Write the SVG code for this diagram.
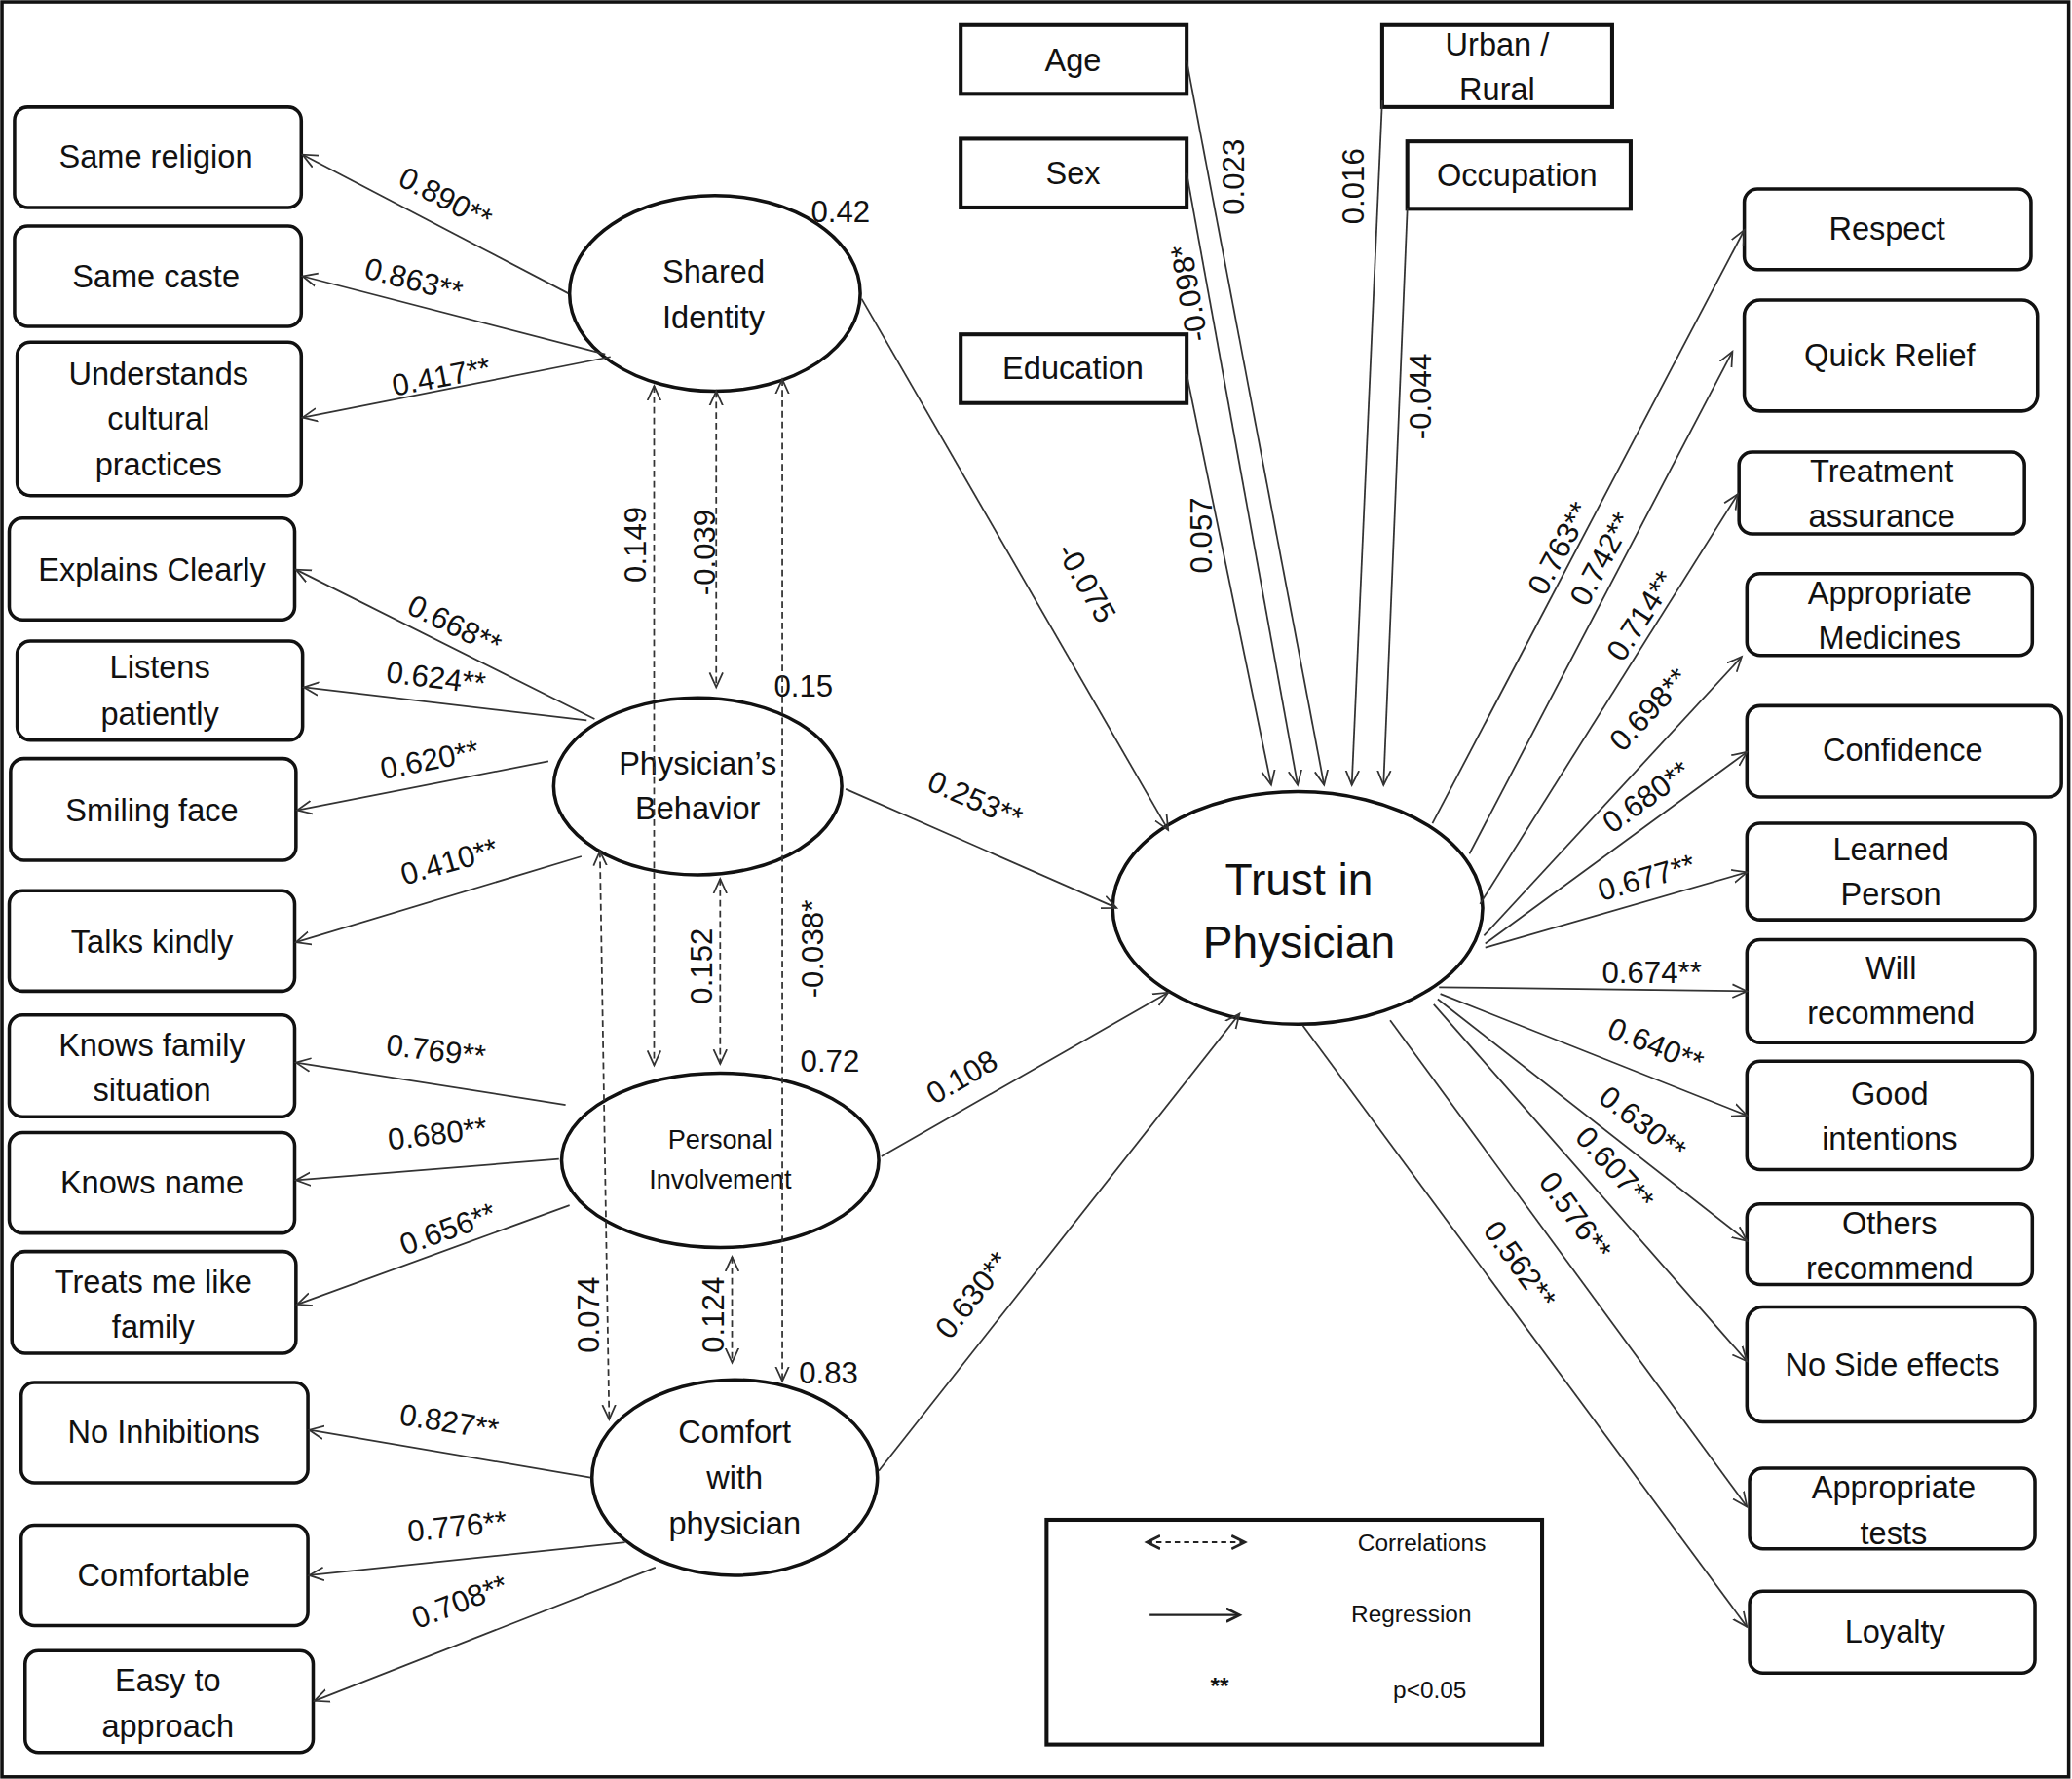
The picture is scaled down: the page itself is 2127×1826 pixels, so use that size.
<svg xmlns="http://www.w3.org/2000/svg" width="2127" height="1826" viewBox="0 0 2127 1826">
<defs>
<marker id="ah" markerUnits="userSpaceOnUse" markerWidth="14" markerHeight="14" refX="11" refY="6" orient="auto-start-reverse" viewBox="0 0 14 14">
<path d="M0,1 L11,6 L0,11" fill="none" stroke="#333" stroke-width="1.3"/>
</marker>
<marker id="ahl" markerUnits="userSpaceOnUse" markerWidth="14" markerHeight="14" refX="10" refY="6" orient="auto-start-reverse" viewBox="0 0 14 14">
<path d="M0,1 L10,6 L0,11" fill="none" stroke="#222" stroke-width="2"/>
</marker>
</defs>
<style>
text{font-family:"Liberation Sans",Arial,sans-serif;fill:#111;text-anchor:middle;dominant-baseline:central}
.bx{fill:#fff;stroke:#111;stroke-width:2.6}
.sq{fill:#fff;stroke:#111;stroke-width:3}
.el{fill:#fff;stroke:#111;stroke-width:2.6}
.t{font-size:24px}
.lb{font-size:23px}
.c{fill:none;stroke:#333;stroke-width:1.3;marker-end:url(#ah)}
.d{fill:none;stroke:#333;stroke-width:1.3;stroke-dasharray:5 3;marker-start:url(#ah);marker-end:url(#ah)}
</style>
<rect x="0" y="0" width="2127" height="1826" fill="#fff"/>
<g transform="scale(1.35651)">
<rect x="1.5" y="1.5" width="1564" height="1343" fill="none" stroke="#111" stroke-width="2.6"/>

<!-- Left indicator boxes -->
<g id="same-religion"><rect class="bx" x="11" y="81" width="217" height="76" rx="10"/><text class="t" x="118" y="119">Same religion</text></g>
<g id="same-caste"><rect class="bx" x="11" y="171" width="217" height="76" rx="10"/><text class="t" x="118" y="209">Same caste</text></g>
<g id="understands"><rect class="bx" x="13" y="259" width="215" height="116" rx="10"/><text class="t" x="120" y="283">Understands</text><text class="t" x="120" y="317">cultural</text><text class="t" x="120" y="352">practices</text></g>
<g id="explains"><rect class="bx" x="7" y="392" width="216" height="77" rx="10"/><text class="t" x="115" y="431">Explains Clearly</text></g>
<g id="listens"><rect class="bx" x="13" y="485" width="216" height="75" rx="10"/><text class="t" x="121" y="505">Listens</text><text class="t" x="121" y="540">patiently</text></g>
<g id="smiling"><rect class="bx" x="8" y="574" width="216" height="77" rx="10"/><text class="t" x="115" y="613">Smiling face</text></g>
<g id="talks"><rect class="bx" x="7" y="674" width="216" height="76" rx="10"/><text class="t" x="115" y="713">Talks kindly</text></g>
<g id="knows-family"><rect class="bx" x="7" y="768" width="216" height="77" rx="10"/><text class="t" x="115" y="791">Knows family</text><text class="t" x="115" y="825">situation</text></g>
<g id="knows-name"><rect class="bx" x="7" y="857" width="216" height="76" rx="10"/><text class="t" x="115" y="895">Knows name</text></g>
<g id="treats"><rect class="bx" x="9" y="947" width="215" height="77" rx="10"/><text class="t" x="116" y="970">Treats me like</text><text class="t" x="116" y="1004">family</text></g>
<g id="no-inhibitions"><rect class="bx" x="16" y="1046" width="217" height="76" rx="10"/><text class="t" x="124" y="1084">No Inhibitions</text></g>
<g id="comfortable"><rect class="bx" x="16" y="1154" width="217" height="76" rx="10"/><text class="t" x="124" y="1192">Comfortable</text></g>
<g id="easy"><rect class="bx" x="19" y="1249" width="218" height="77" rx="10"/><text class="t" x="127" y="1272">Easy to</text><text class="t" x="127" y="1306">approach</text></g>

<!-- Latent ellipses -->
<g id="shared-identity"><ellipse class="el" cx="541" cy="222" rx="110" ry="74"/><text class="t" x="540" y="206">Shared</text><text class="t" x="540" y="240">Identity</text><text class="lb" x="636" y="160">0.42</text></g>
<g id="physicians-behavior"><ellipse class="el" cx="528" cy="595" rx="109" ry="67"/><text class="t" x="528" y="578">Physician’s</text><text class="t" x="528" y="612">Behavior</text><text class="lb" x="608" y="519">0.15</text></g>
<g id="personal-involvement"><ellipse class="el" cx="545" cy="878" rx="120" ry="66"/><text style="font-size:20px" x="545" y="862">Personal</text><text style="font-size:20px" x="545" y="892">Involvement</text><text class="lb" x="628" y="803">0.72</text></g>
<g id="comfort"><ellipse class="el" cx="556" cy="1118" rx="108" ry="74"/><text class="t" x="556" y="1084">Comfort</text><text class="t" x="556" y="1118">with</text><text class="t" x="556" y="1153">physician</text><text class="lb" x="627" y="1039">0.83</text></g>
<g id="trust"><ellipse class="el" cx="982" cy="687" rx="140" ry="88"/><text style="font-size:34px" x="983" y="666">Trust in</text><text style="font-size:34px" x="983" y="713">Physician</text></g>

<!-- Covariate boxes -->
<g id="age"><rect class="sq" x="727" y="19" width="171" height="52"/><text class="t" x="812" y="46">Age</text></g>
<g id="sex"><rect class="sq" x="727" y="105" width="171" height="52"/><text class="t" x="812" y="131">Sex</text></g>
<g id="education"><rect class="sq" x="727" y="253" width="171" height="52"/><text class="t" x="812" y="279">Education</text></g>
<g id="urban-rural"><rect class="sq" x="1046" y="19" width="174" height="62"/><text class="t" x="1133" y="34">Urban /</text><text class="t" x="1133" y="68">Rural</text></g>
<g id="occupation"><rect class="sq" x="1065" y="107" width="169" height="51"/><text class="t" x="1148" y="133">Occupation</text></g>

<!-- Right indicator boxes -->
<g id="respect"><rect class="bx" x="1320" y="143" width="217" height="61" rx="10"/><text class="t" x="1428" y="173">Respect</text></g>
<g id="quick-relief"><rect class="bx" x="1320" y="227" width="222" height="84" rx="12"/><text class="t" x="1430" y="269">Quick Relief</text></g>
<g id="treatment-assurance"><rect class="bx" x="1316" y="342" width="216" height="62" rx="10"/><text class="t" x="1424" y="357">Treatment</text><text class="t" x="1424" y="391">assurance</text></g>
<g id="appropriate-medicines"><rect class="bx" x="1322" y="434" width="216" height="62" rx="10"/><text class="t" x="1430" y="449">Appropriate</text><text class="t" x="1430" y="483">Medicines</text></g>
<g id="confidence"><rect class="bx" x="1322" y="534" width="238" height="69" rx="10"/><text class="t" x="1440" y="568">Confidence</text></g>
<g id="learned-person"><rect class="bx" x="1322" y="623" width="218" height="73" rx="10"/><text class="t" x="1431" y="643">Learned</text><text class="t" x="1431" y="677">Person</text></g>
<g id="will-recommend"><rect class="bx" x="1322" y="711" width="218" height="78" rx="10"/><text class="t" x="1431" y="733">Will</text><text class="t" x="1431" y="767">recommend</text></g>
<g id="good-intentions"><rect class="bx" x="1322" y="803" width="216" height="82" rx="10"/><text class="t" x="1430" y="828">Good</text><text class="t" x="1430" y="862">intentions</text></g>
<g id="others-recommend"><rect class="bx" x="1322" y="911" width="216" height="61" rx="10"/><text class="t" x="1430" y="926">Others</text><text class="t" x="1430" y="960">recommend</text></g>
<g id="no-side-effects"><rect class="bx" x="1322" y="989" width="218" height="87" rx="12"/><text class="t" x="1432" y="1033">No Side effects</text></g>
<g id="appropriate-tests"><rect class="bx" x="1324" y="1111" width="216" height="61" rx="10"/><text class="t" x="1433" y="1126">Appropriate</text><text class="t" x="1433" y="1160">tests</text></g>
<g id="loyalty"><rect class="bx" x="1324" y="1204" width="216" height="62" rx="10"/><text class="t" x="1434" y="1235">Loyalty</text></g>

<!-- Legend -->
<g id="legend">
<rect class="sq" x="792" y="1150" width="375" height="170"/>
<line x1="868" y1="1167" x2="942" y2="1167" stroke="#222" stroke-width="1.5" stroke-dasharray="4 3" marker-start="url(#ahl)" marker-end="url(#ahl)"/>
<line x1="870" y1="1222" x2="938" y2="1222" stroke="#222" stroke-width="1.6" marker-end="url(#ahl)"/>
<text style="font-size:18px" x="1076" y="1167">Correlations</text>
<text style="font-size:18px" x="1068" y="1221">Regression</text>
<text style="font-size:18px;font-weight:bold" x="923" y="1276">**</text>
<text style="font-size:18px" x="1082" y="1279">p&lt;0.05</text>
</g>

<g id="connectors">
<!-- Shared identity indicators -->
<line class="c" x1="430" y1="222" x2="229" y2="117"/>
<line class="c" x1="458" y1="268" x2="229" y2="209"/>
<line class="c" x1="462" y1="270" x2="229" y2="316"/>
<!-- Physician's behavior indicators -->
<line class="c" x1="450" y1="544" x2="224" y2="431"/>
<line class="c" x1="444" y1="545" x2="230" y2="520"/>
<line class="c" x1="415" y1="576" x2="225" y2="613"/>
<line class="c" x1="440" y1="648" x2="224" y2="713"/>
<!-- Personal involvement indicators -->
<line class="c" x1="428" y1="836" x2="224" y2="804"/>
<line class="c" x1="423" y1="877" x2="224" y2="893"/>
<line class="c" x1="431" y1="912" x2="225" y2="987"/>
<!-- Comfort indicators -->
<line class="c" x1="447" y1="1118" x2="234" y2="1082"/>
<line class="c" x1="473" y1="1167" x2="234" y2="1192"/>
<line class="c" x1="496" y1="1186" x2="238" y2="1287"/>
<!-- Regressions to trust -->
<line class="c" x1="652" y1="226" x2="884" y2="628"/>
<line class="c" x1="640" y1="597" x2="845" y2="687"/>
<line class="c" x1="667" y1="875" x2="884" y2="751"/>
<line class="c" x1="665" y1="1113" x2="938" y2="767"/>
<!-- Covariates -->
<line class="c" x1="898" y1="46" x2="1002" y2="594"/>
<line class="c" x1="898" y1="131" x2="982" y2="594"/>
<line class="c" x1="898" y1="283" x2="962" y2="594"/>
<line class="c" x1="1046" y1="76" x2="1023" y2="594"/>
<line class="c" x1="1065" y1="158" x2="1047" y2="594"/>
<!-- Trust indicators -->
<line class="c" x1="1084" y1="623" x2="1320" y2="174"/>
<line class="c" x1="1112" y1="646" x2="1311" y2="266"/>
<line class="c" x1="1120" y1="684" x2="1315" y2="374"/>
<line class="c" x1="1123" y1="708" x2="1318" y2="497"/>
<line class="c" x1="1124" y1="714" x2="1322" y2="569"/>
<line class="c" x1="1124" y1="717" x2="1322" y2="660"/>
<line class="c" x1="1089" y1="747" x2="1322" y2="750"/>
<line class="c" x1="1090" y1="752" x2="1322" y2="844"/>
<line class="c" x1="1088" y1="756" x2="1322" y2="939"/>
<line class="c" x1="1085" y1="760" x2="1322" y2="1030"/>
<line class="c" x1="1052" y1="772" x2="1322" y2="1140"/>
<line class="c" x1="986" y1="776" x2="1322" y2="1231"/>
<!-- Correlations -->
<line class="d" x1="495" y1="292" x2="495" y2="806"/>
<line class="d" x1="542" y1="296" x2="542" y2="520"/>
<line class="d" x1="592" y1="287" x2="592" y2="1045"/>
<line class="d" x1="545" y1="665" x2="545" y2="805"/>
<line class="d" x1="454" y1="644" x2="461" y2="1074"/>
<line class="d" x1="554" y1="951" x2="554" y2="1031"/>

<!-- Edge labels -->
<text class="lb" transform="rotate(27.5 337 150)" x="337" y="150">0.890**</text>
<text class="lb" transform="rotate(14.4 313 212)" x="313" y="212">0.863**</text>
<text class="lb" transform="rotate(-11 334 285)" x="334" y="285">0.417**</text>
<text class="lb" transform="rotate(26 344 473)" x="344" y="473">0.668**</text>
<text class="lb" transform="rotate(7 330 513)" x="330" y="513">0.624**</text>
<text class="lb" transform="rotate(-11 325 575)" x="325" y="575">0.620**</text>
<text class="lb" transform="rotate(-16 340 652)" x="340" y="652">0.410**</text>
<text class="lb" transform="rotate(7 330 795)" x="330" y="795">0.769**</text>
<text class="lb" transform="rotate(-7 331 858)" x="331" y="858">0.680**</text>
<text class="lb" transform="rotate(-20 339 930)" x="339" y="930">0.656**</text>
<text class="lb" transform="rotate(9 340 1076)" x="340" y="1076">0.827**</text>
<text class="lb" transform="rotate(-6 346 1155)" x="346" y="1155">0.776**</text>
<text class="lb" transform="rotate(-21 348 1212)" x="348" y="1212">0.708**</text>

<text class="lb" transform="rotate(60 822 441)" x="822" y="441">-0.075</text>
<text class="lb" transform="rotate(23.7 738 605)" x="738" y="605">0.253**</text>
<text class="lb" transform="rotate(-30 728 815)" x="728" y="815">0.108</text>
<text class="lb" transform="rotate(-52 736 980)" x="736" y="980">0.630**</text>

<text class="lb" transform="rotate(-90 934 134)" x="934" y="134">0.023</text>
<text class="lb" transform="rotate(-100 900 222)" x="900" y="222">-0.098*</text>
<text class="lb" transform="rotate(-90 909 405)" x="909" y="405">0.057</text>
<text class="lb" transform="rotate(-90 1024 141)" x="1024" y="141">0.016</text>
<text class="lb" transform="rotate(-90 1075 300)" x="1075" y="300">-0.044</text>

<text class="lb" transform="rotate(-62 1180 415)" x="1180" y="415">0.763**</text>
<text class="lb" transform="rotate(-62 1212 423)" x="1212" y="423">0.742**</text>
<text class="lb" transform="rotate(-57 1242 466)" x="1242" y="466">0.714**</text>
<text class="lb" transform="rotate(-47 1248 537)" x="1248" y="537">0.698**</text>
<text class="lb" transform="rotate(-36 1246 603)" x="1246" y="603">0.680**</text>
<text class="lb" transform="rotate(-16 1246 664)" x="1246" y="664">0.677**</text>
<text class="lb" x="1250" y="736">0.674**</text>
<text class="lb" transform="rotate(22 1253 791)" x="1253" y="791">0.640**</text>
<text class="lb" transform="rotate(38 1243 850)" x="1243" y="850">0.630**</text>
<text class="lb" transform="rotate(48 1222 884)" x="1222" y="884">0.607**</text>
<text class="lb" transform="rotate(54 1192 920)" x="1192" y="920">0.576**</text>
<text class="lb" transform="rotate(54 1150 957)" x="1150" y="957">0.562**</text>

<text class="lb" transform="rotate(-90 481 412)" x="481" y="412">0.149</text>
<text class="lb" transform="rotate(-90 533 418)" x="533" y="418">-0.039</text>
<text class="lb" transform="rotate(-90 615 718)" x="615" y="718">-0.038*</text>
<text class="lb" transform="rotate(-90 531 731)" x="531" y="731">0.152</text>
<text class="lb" transform="rotate(-90 446 995)" x="446" y="995">0.074</text>
<text class="lb" transform="rotate(-90 540 995)" x="540" y="995">0.124</text>
</g>
</g>
</svg>
